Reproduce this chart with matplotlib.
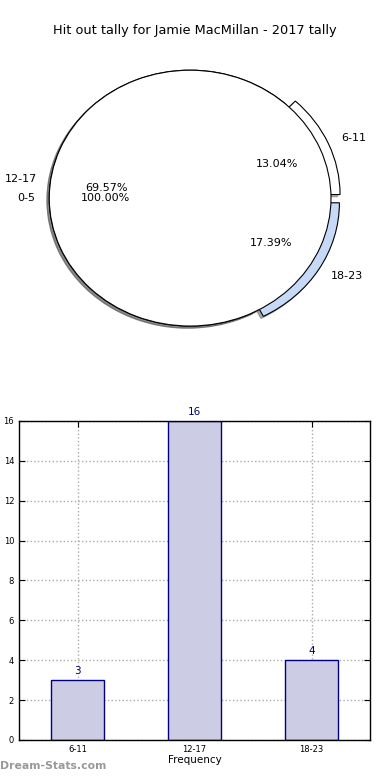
import matplotlib.pyplot as plt

title = "Hit out tally for Jamie MacMillan - 2017 tally"
categories = ['6-11', '12-17', '18-23']
counts = [3, 16, 4]
pie_colors = ['white', '#dcdcdc', '#c6d9f7']
explode = [0.07, 0.0, 0.07]
empty_label = ['0-5']
empty_value = [1]

fig = plt.figure(figsize=(3.9, 7.8), dpi=100)

# pie part
shadow = {'ox': -0.012, 'oy': -0.012, 'shade': 0.6}
ax1 = fig.add_axes([0.036, 0.541, 0.903, 0.41])
ax1.pie(counts, labels=categories, colors=pie_colors, explode=explode,
        autopct='%1.2f%%', shadow=shadow, textprops={'fontsize': 8},
        wedgeprops={'edgecolor': 'black', 'linewidth': 0.8})
ax1.pie(empty_value, labels=empty_label, colors=['white'],
        autopct='%1.2f%%', shadow=shadow, textprops={'fontsize': 8},
        wedgeprops={'edgecolor': 'black', 'linewidth': 0.8})
ax1.set_aspect('auto')
ax1.set_xlim(-1.25, 1.25)
ax1.set_ylim(-1.25, 1.25)
fig.text(0.5, 0.961, title, ha='center', va='center', fontsize=9.3)

# bar part
ax2 = fig.add_axes([0.0487, 0.0513, 0.9003, 0.409])
x = range(len(categories))
ax2.bar(x, counts, width=0.45, color='#ccccE5', edgecolor='navy', linewidth=1, zorder=2)
for i, v in enumerate(counts):
    ax2.text(i, v + 0.2, str(v), ha='center', va='bottom', color='navy', fontsize=7.5)
ax2.set_xlim(-0.5, 2.5)
ax2.set_ylim(0, 16)
ax2.set_yticks(range(0, 17, 2))
ax2.set_xticks(list(x))
ax2.set_xticklabels(categories)
ax2.tick_params(labelsize=6, direction='in', top=True, right=True, length=4)
ax2.grid(True, linestyle=':', color='#aaaaaa', linewidth=1, zorder=0)
ax2.set_axisbelow(True)
ax2.set_xlabel('Frequency', fontsize=7.5, labelpad=1)
ax2.set_ylabel('Hit Out Tally', fontsize=7.5)
ax2.yaxis.set_label_coords(-0.055, 0.5)
for s in ax2.spines.values():
    s.set_linewidth(1)

fig.text(0.0, 0.012, 'Dream-Stats.com', color='#999999', fontsize=7.8,
         fontweight='bold', ha='left', va='bottom')

fig.savefig('out.png', dpi=100)
